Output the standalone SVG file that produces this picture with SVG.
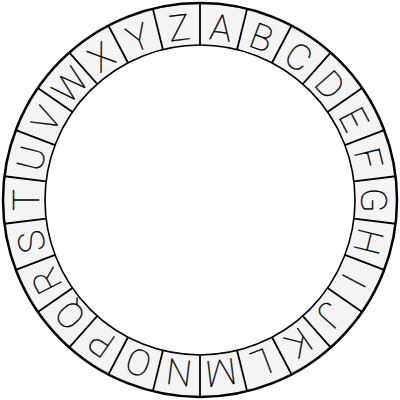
<svg xmlns="http://www.w3.org/2000/svg" width="400" height="400" viewBox="0 0 400 400">
<style>
.ring{fill:#f4f4f4;stroke:#000;stroke-width:2.5}
.inner{fill:#fff;stroke:#000;stroke-width:1.6}
.div{stroke:#000;stroke-width:1.8}
.l{font-family:Roboto,"Liberation Sans",sans-serif;font-weight:100;font-size:36px;fill:#000;stroke:#000;stroke-width:0.35;text-anchor:middle;dominant-baseline:central}
</style>
<rect width="400" height="400" fill="#fff"/>
<circle class="ring" cx="200" cy="200" r="197"/>
<circle class="inner" cx="200" cy="200" r="155"/>
<g id="connectors">
<line class="div" x1="200" y1="45" x2="200" y2="3" transform="rotate(0 200 200)"/>
<line class="div" x1="200" y1="45" x2="200" y2="3" transform="rotate(13.846 200 200)"/>
<line class="div" x1="200" y1="45" x2="200" y2="3" transform="rotate(27.692 200 200)"/>
<line class="div" x1="200" y1="45" x2="200" y2="3" transform="rotate(41.538 200 200)"/>
<line class="div" x1="200" y1="45" x2="200" y2="3" transform="rotate(55.385 200 200)"/>
<line class="div" x1="200" y1="45" x2="200" y2="3" transform="rotate(69.231 200 200)"/>
<line class="div" x1="200" y1="45" x2="200" y2="3" transform="rotate(83.077 200 200)"/>
<line class="div" x1="200" y1="45" x2="200" y2="3" transform="rotate(96.923 200 200)"/>
<line class="div" x1="200" y1="45" x2="200" y2="3" transform="rotate(110.769 200 200)"/>
<line class="div" x1="200" y1="45" x2="200" y2="3" transform="rotate(124.615 200 200)"/>
<line class="div" x1="200" y1="45" x2="200" y2="3" transform="rotate(138.462 200 200)"/>
<line class="div" x1="200" y1="45" x2="200" y2="3" transform="rotate(152.308 200 200)"/>
<line class="div" x1="200" y1="45" x2="200" y2="3" transform="rotate(166.154 200 200)"/>
<line class="div" x1="200" y1="45" x2="200" y2="3" transform="rotate(180 200 200)"/>
<line class="div" x1="200" y1="45" x2="200" y2="3" transform="rotate(193.846 200 200)"/>
<line class="div" x1="200" y1="45" x2="200" y2="3" transform="rotate(207.692 200 200)"/>
<line class="div" x1="200" y1="45" x2="200" y2="3" transform="rotate(221.538 200 200)"/>
<line class="div" x1="200" y1="45" x2="200" y2="3" transform="rotate(235.385 200 200)"/>
<line class="div" x1="200" y1="45" x2="200" y2="3" transform="rotate(249.231 200 200)"/>
<line class="div" x1="200" y1="45" x2="200" y2="3" transform="rotate(263.077 200 200)"/>
<line class="div" x1="200" y1="45" x2="200" y2="3" transform="rotate(276.923 200 200)"/>
<line class="div" x1="200" y1="45" x2="200" y2="3" transform="rotate(290.769 200 200)"/>
<line class="div" x1="200" y1="45" x2="200" y2="3" transform="rotate(304.615 200 200)"/>
<line class="div" x1="200" y1="45" x2="200" y2="3" transform="rotate(318.462 200 200)"/>
<line class="div" x1="200" y1="45" x2="200" y2="3" transform="rotate(332.308 200 200)"/>
<line class="div" x1="200" y1="45" x2="200" y2="3" transform="rotate(346.154 200 200)"/>
</g>
<g id="A"><text class="l" x="200" y="27" transform="rotate(6.923 200 200)">A</text></g>
<g id="B"><text class="l" x="200" y="27" transform="rotate(20.769 200 200)">B</text></g>
<g id="C"><text class="l" x="200" y="27" transform="rotate(34.615 200 200)">C</text></g>
<g id="D"><text class="l" x="200" y="27" transform="rotate(48.462 200 200)">D</text></g>
<g id="E"><text class="l" x="200" y="27" transform="rotate(62.308 200 200)">E</text></g>
<g id="F"><text class="l" x="200" y="27" transform="rotate(76.154 200 200)">F</text></g>
<g id="G"><text class="l" x="200" y="27" transform="rotate(90 200 200)">G</text></g>
<g id="H"><text class="l" x="200" y="27" transform="rotate(103.846 200 200)">H</text></g>
<g id="I"><text class="l" x="200" y="27" transform="rotate(117.692 200 200)">I</text></g>
<g id="J"><text class="l" x="200" y="27" transform="rotate(131.538 200 200)">J</text></g>
<g id="K"><text class="l" x="200" y="27" transform="rotate(145.385 200 200)">K</text></g>
<g id="L"><text class="l" x="200" y="27" transform="rotate(159.231 200 200)">L</text></g>
<g id="M"><text class="l" x="200" y="27" transform="rotate(173.077 200 200)">M</text></g>
<g id="N"><text class="l" x="200" y="27" transform="rotate(186.923 200 200)">N</text></g>
<g id="O"><text class="l" x="200" y="27" transform="rotate(200.769 200 200)">O</text></g>
<g id="P"><text class="l" x="200" y="27" transform="rotate(214.615 200 200)">P</text></g>
<g id="Q"><text class="l" x="200" y="27" transform="rotate(228.462 200 200)">Q</text></g>
<g id="R"><text class="l" x="200" y="27" transform="rotate(242.308 200 200)">R</text></g>
<g id="S"><text class="l" x="200" y="27" transform="rotate(256.154 200 200)">S</text></g>
<g id="T"><text class="l" x="200" y="27" transform="rotate(270 200 200)">T</text></g>
<g id="U"><text class="l" x="200" y="27" transform="rotate(283.846 200 200)">U</text></g>
<g id="V"><text class="l" x="200" y="27" transform="rotate(297.692 200 200)">V</text></g>
<g id="W"><text class="l" x="200" y="27" transform="rotate(311.538 200 200)">W</text></g>
<g id="X"><text class="l" x="200" y="27" transform="rotate(325.385 200 200)">X</text></g>
<g id="Y"><text class="l" x="200" y="27" transform="rotate(339.231 200 200)">Y</text></g>
<g id="Z"><text class="l" x="200" y="27" transform="rotate(353.077 200 200)">Z</text></g>
</svg>
